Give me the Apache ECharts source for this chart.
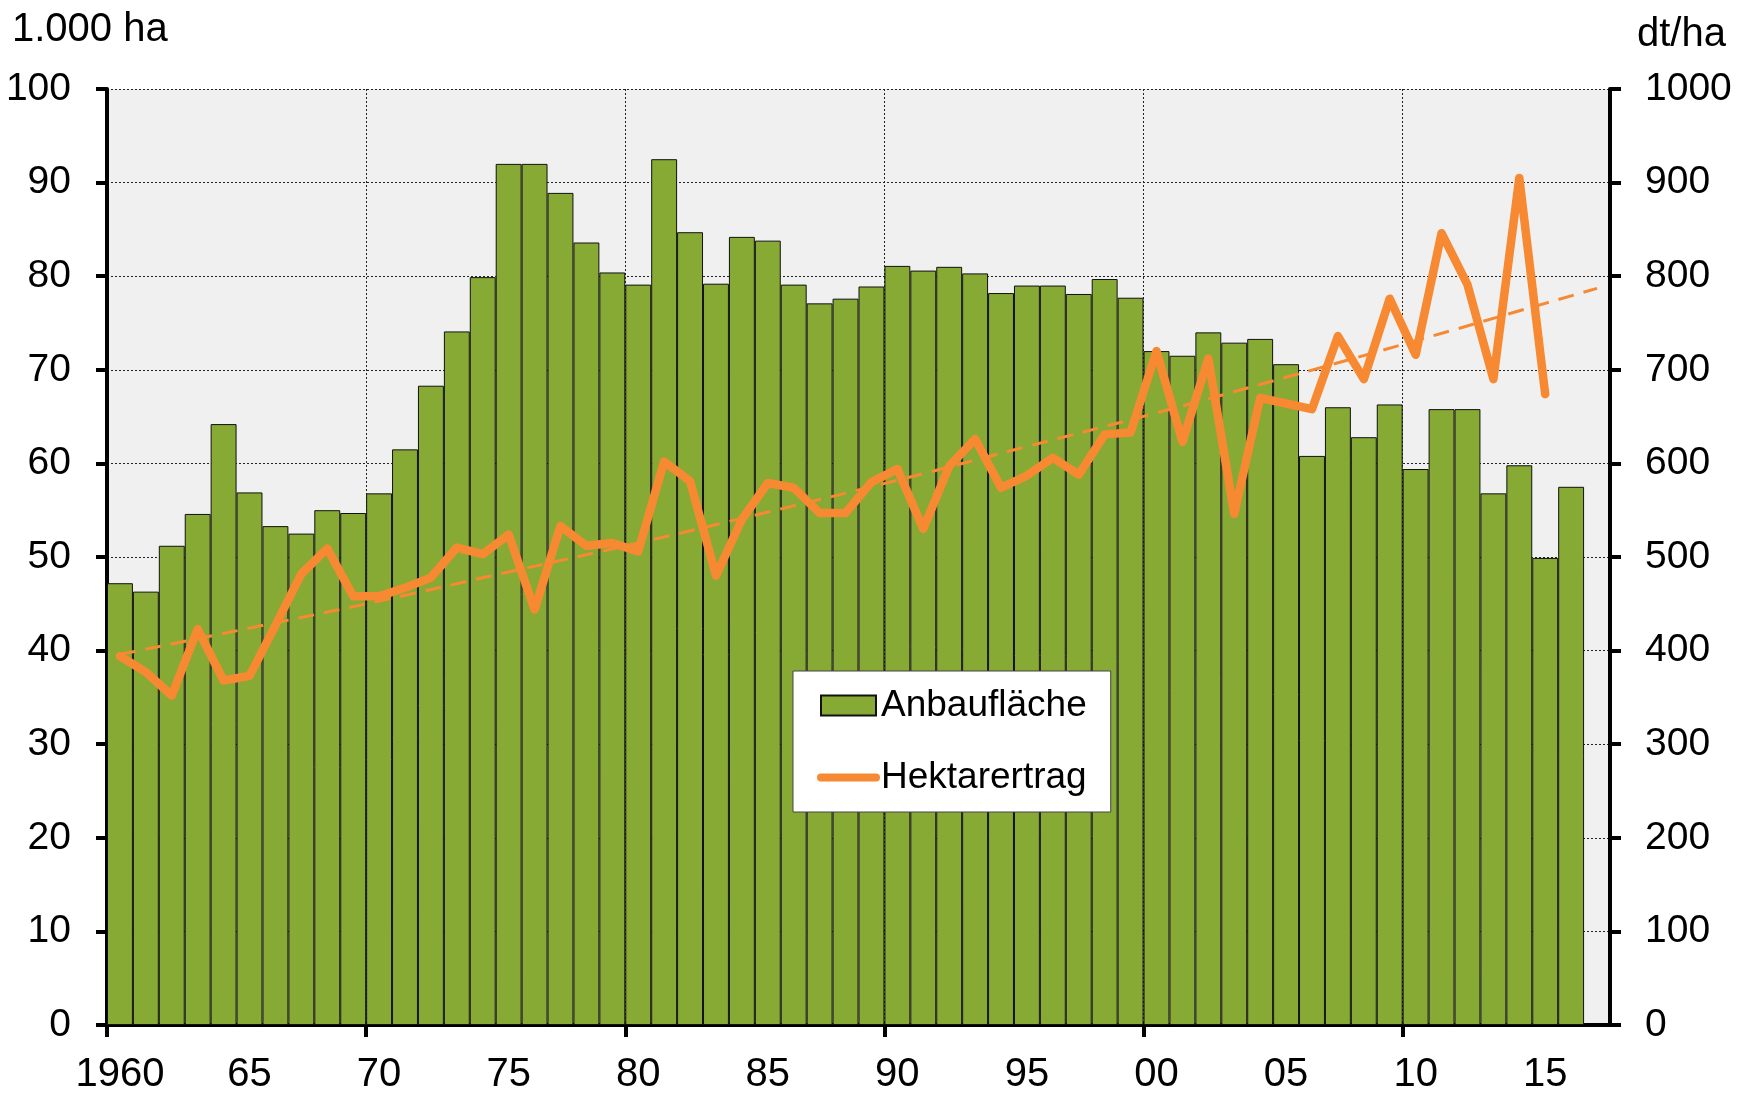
<!DOCTYPE html>
<html>
<head>
<meta charset="utf-8">
<title>Anbaufläche und Hektarertrag</title>
<script src="https://cdn.jsdelivr.net/npm/echarts@6/dist/echarts.min.js"></script>
<style>
  html, body { margin: 0; padding: 0; background: #fff; }
  #chart { width: 1749px; height: 1095px; }
</style>
</head>
<body>
<div id="chart"></div>
<script>
// years on the x axis (last one stays empty)
const years = [];
for (let y = 1960; y <= 2017; y++) years.push(String(y));
// year boundaries, used only for the ticks and the vertical grid
const yearEdges = [];
for (let y = 1960; y <= 2018; y++) yearEdges.push(String(y));

// Anbaufläche, 1.000 ha (1960 - 2016)
const anbauflaeche = [
  47.2, 46.3, 51.2, 54.6, 64.2, 56.9, 53.3, 52.5, 55.0, 54.7,
  56.8, 61.5, 68.3, 74.1, 79.9, 92.0, 92.0, 88.9, 83.6, 80.4,
  79.1, 92.5, 84.7, 79.2, 84.2, 83.8, 79.1, 77.1, 77.6, 78.9,
  81.1, 80.6, 81.0, 80.3, 78.2, 79.0, 79.0, 78.1, 79.7, 77.7,
  72.0, 71.5, 74.0, 72.9, 73.3, 70.6, 60.8, 66.0, 62.8, 66.3,
  59.4, 65.8, 65.8, 56.8, 59.8, 49.9, 57.5
];

// Hektarertrag, dt/ha (1960 - 2015)
const hektarertrag = [
  394, 377, 352, 423, 368, 373, 427, 482, 509, 458,
  458, 467, 478, 510, 503, 524, 444, 533, 512, 515,
  506, 602, 581, 480, 540, 579, 574, 547, 547, 580,
  594, 530, 597, 626, 574, 587, 606, 588, 631, 633,
  720, 623, 712, 546, 670, 664, 658, 736, 690, 776,
  716, 846, 791, 690, 905, 674
];

// trend curve of the yield, read at a few years
const trendYears = ['1960', '1965', '1970', '1975', '1980', '1985', '1990',
  '1995', '2000', '2005', '2010', '2015', '2017'];
const trendValues = [396, 424, 453, 484, 515, 548, 582, 618, 654, 692, 731, 771, 787];

const FONT = '"Liberation Sans", Arial, sans-serif';
const GREEN = '#86AA34';
const ORANGE = '#F78932';

const chart = echarts.init(document.getElementById('chart'));

const gridLine = { color: '#222', width: 1, type: [2, 2] };
const blackLine = { color: '#000', width: 4 };

const option = {
  animation: false,
  backgroundColor: '#fff',
  textStyle: { fontFamily: FONT },
  grid: {
    left: 107, right: 139, top: 89, bottom: 69,
    show: true, backgroundColor: '#F0F0F0', borderWidth: 0
  },
  graphic: [
    { type: 'text', x: 12, y: 30,
      style: { text: '1.000 ha', font: '40px ' + FONT, fill: '#000', align: 'left', verticalAlign: 'middle' } },
    { type: 'text', x: 1637, y: 35,
      style: { text: 'dt/ha', font: '40px ' + FONT, fill: '#000', align: 'left', verticalAlign: 'middle' } }
  ],
  legend: {
    orient: 'vertical',
    left: 793, top: 671,
    padding: [16, 24, 16, 24],
    itemWidth: 55, itemHeight: 20, itemGap: 35,
    backgroundColor: '#fff',
    borderColor: '#444', borderWidth: 1,
    textStyle: { fontSize: 37, color: '#000', fontFamily: FONT },
    data: [
      { name: 'Anbaufläche', icon: 'rect' },
      { name: 'Hektarertrag',
        itemStyle: { opacity: 0 },
        lineStyle: { width: 8, cap: 'round', color: ORANGE } }
    ]
  },
  xAxis: [
    {
      type: 'category',
      data: years,
      boundaryGap: true,
      axisLine: { lineStyle: blackLine },
      axisTick: { show: false },
      axisLabel: {
        interval: (i) => i % 5 === 0 && i <= 55,
        margin: 30, fontSize: 40, color: '#000', fontFamily: FONT,
        formatter: (v, i) => (i === 0 ? v : v.slice(2))
      },
      splitLine: { show: false }
    },
    {
      type: 'category',
      data: yearEdges,
      boundaryGap: false,
      position: 'bottom',
      axisLine: { show: false },
      axisTick: { show: true, interval: (i) => i % 10 === 0 && i < 58, length: 12, lineStyle: blackLine },
      axisLabel: { show: false },
      splitLine: { show: true, interval: (i) => i % 10 === 0 && i > 0 && i < 58, lineStyle: gridLine }
    }
  ],
  yAxis: [
    {
      type: 'value', min: 0, max: 100, interval: 10,
      axisLine: { show: true, lineStyle: blackLine },
      axisTick: { show: true, length: 11, lineStyle: blackLine },
      axisLabel: { margin: 36, fontSize: 39, color: '#000', fontFamily: FONT },
      splitLine: { show: true, lineStyle: gridLine }
    },
    {
      type: 'value', min: 0, max: 1000, interval: 100, position: 'right',
      axisLine: { show: true, lineStyle: blackLine },
      axisTick: { show: true, length: 11, lineStyle: blackLine },
      axisLabel: { margin: 35, fontSize: 39, color: '#000', fontFamily: FONT,
        formatter: (v) => String(v) },
      splitLine: { show: false }
    }
  ],
  series: [
    {
      name: 'Anbaufläche',
      type: 'bar',
      data: anbauflaeche,
      barCategoryGap: '0%',
      itemStyle: { color: GREEN, borderColor: '#111', borderWidth: 1 },
      z: 2
    },
    {
      name: 'Trend',
      type: 'line',
      yAxisIndex: 1,
      data: trendYears.map((y, i) => [y, trendValues[i]]),
      smooth: true,
      symbol: 'none',
      lineStyle: { color: ORANGE, width: 3, type: [16, 10] },
      z: 3
    },
    {
      name: 'Hektarertrag',
      type: 'line',
      yAxisIndex: 1,
      data: hektarertrag,
      symbol: 'none',
      lineStyle: { color: ORANGE, width: 8.5, cap: 'round', join: 'round' },
      itemStyle: { color: ORANGE },
      z: 4
    }
  ]
};

chart.setOption(option);
</script>
</body>
</html>
